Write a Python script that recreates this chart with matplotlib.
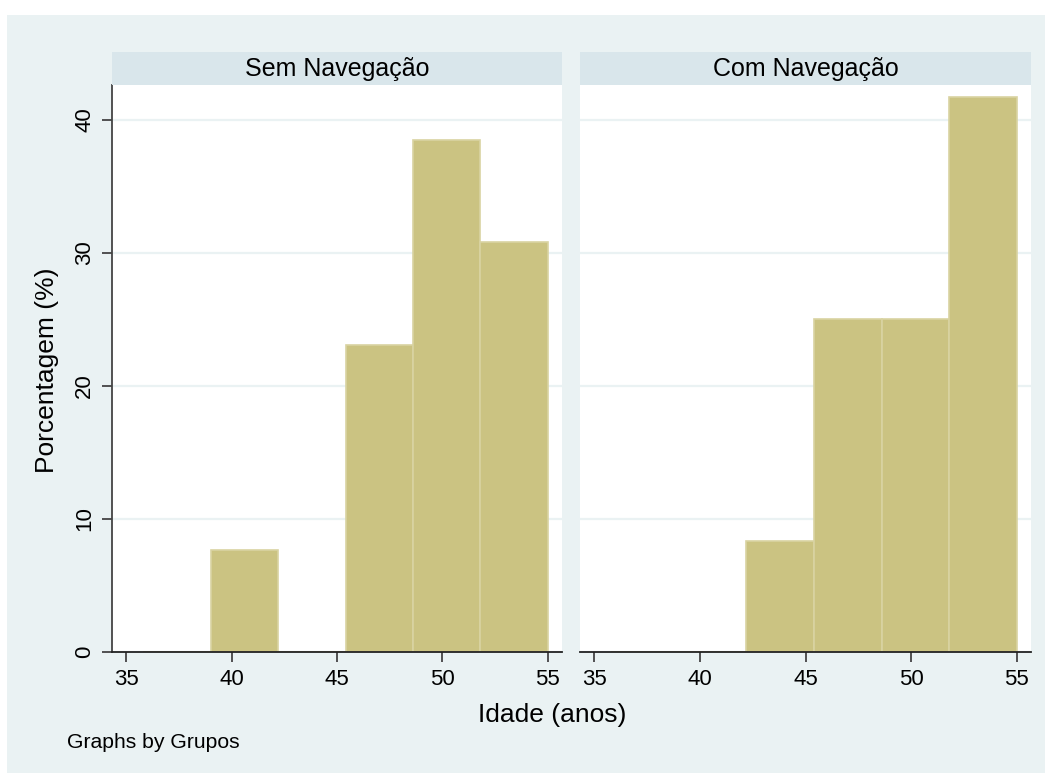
import matplotlib.pyplot as plt
from matplotlib.patches import Rectangle
import numpy as np

plt.rcParams['font.family'] = ['Liberation Sans', 'DejaVu Sans']

# histogram bins (age, years) shared by both groups
bin_edges = [35.8, 39.0, 42.2, 45.4, 48.6, 51.8, 55.0]
groups = ["Sem Navegação", "Com Navegação"]
pct_sem = [0.0, 7.69, 0.0, 23.08, 38.46, 30.77]
pct_com = [0.0, 0.0, 8.33, 25.0, 25.0, 41.67]
x_ticks = [35, 40, 45, 50, 55]
y_ticks = [0, 10, 20, 30, 40]

BG = "#eaf2f3"
STRIP = "#d9e6eb"
BAR = "#cbc382"
BAR_EDGE = "#d9d3a2"

W, H = 1052, 774
fig = plt.figure(figsize=(W / 100, H / 100), dpi=100, facecolor="white")
fig.patches.append(Rectangle((7 / W, 1 / H), 1038 / W, 758 / H,
                             transform=fig.transFigure, facecolor=BG,
                             edgecolor="none", zorder=-10))


def fx(px):
    return px / W


def fy(py):
    return 1 - py / H


panels = [(112, 562), (580, 1031)]
top, bottom = 85, 652
edges = np.array(bin_edges)
widths = np.diff(edges)

for i, (name, pct) in enumerate(zip(groups, [pct_sem, pct_com])):
    x0, x1 = panels[i]
    ax = fig.add_axes([fx(x0), fy(bottom), fx(x1 - x0), (bottom - top) / H])
    ax.set_facecolor("white")
    ax.set_axisbelow(True)
    ax.bar(edges[:-1], pct, width=widths, align="edge", color=BAR,
           edgecolor=BAR_EDGE, linewidth=1.2, zorder=2)
    ax.set_xlim(34.32, 55.67)
    ax.set_ylim(0, 42.6)
    ax.set_xticks(x_ticks)
    ax.set_yticks(y_ticks)
    ax.yaxis.grid(True, color=BG, linewidth=1.6)
    for s in ["top", "right"]:
        ax.spines[s].set_visible(False)
    ax.spines["bottom"].set_color("#222222")
    ax.spines["bottom"].set_linewidth(1.3)
    ax.tick_params(axis="x", length=7, width=1.3, color="#444444",
                   labelsize=16, pad=5)
    if i == 0:
        ax.spines["left"].set_color("#444444")
        ax.spines["left"].set_linewidth(1.3)
        ax.tick_params(axis="y", length=7, width=1.3, color="#444444",
                       labelsize=16, pad=5)
        for lab in ax.get_yticklabels():
            lab.set_rotation(90)
            lab.set_va("center")
    else:
        ax.spines["left"].set_visible(False)
        ax.tick_params(axis="y", left=False, labelleft=False)

    # group title strip
    sax = fig.add_axes([fx(x0), fy(top), fx(x1 - x0), 33 / H])
    sax.set_facecolor(STRIP)
    sax.set_xticks([])
    sax.set_yticks([])
    for s in sax.spines.values():
        s.set_visible(False)
    sax.text(0.5, 0.47, name, ha="center", va="center", fontsize=18,
             transform=sax.transAxes)

fig.text(fx(47), fy(370), "Porcentagem (%)", rotation=90, ha="center",
         va="center", fontsize=19)
fig.text(fx(552), fy(715), "Idade (anos)", ha="center", va="center",
         fontsize=19)
fig.text(fx(67), fy(743), "Graphs by Grupos", ha="left", va="center",
         fontsize=15.2)

fig.savefig("out.png", dpi=100, facecolor="white")
